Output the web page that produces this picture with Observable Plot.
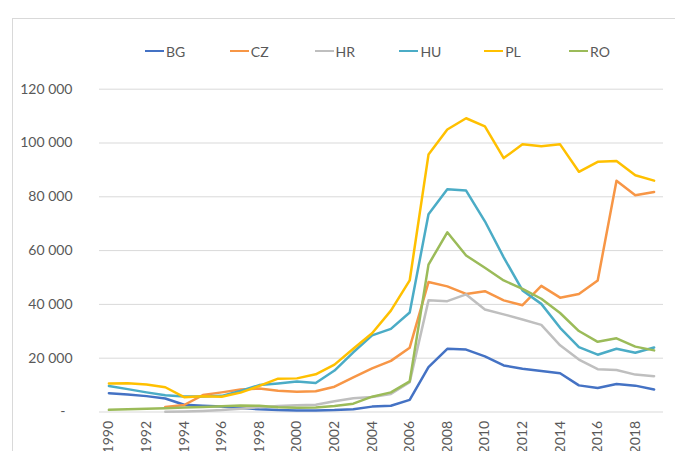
<!DOCTYPE html>
<html>
<head>
<meta charset="utf-8">
<script src="https://cdn.jsdelivr.net/npm/d3@7"></script>
<script src="https://cdn.jsdelivr.net/npm/@observablehq/plot@0.6"></script>
<style>
  html, body { margin: 0; padding: 0; background: #fff; }
  #wrap { position: relative; width: 675px; height: 451px; overflow: hidden; font-family: Lato, "Open Sans", sans-serif; }
  #frame { position: absolute; left: 12px; top: 18px; right: -5px; bottom: -5px; border-left: 1px solid #d9d9d9; border-top: 1px solid #d9d9d9; pointer-events: none; }
  #legend { position: absolute; left: 0; top: 41px; height: 20px; width: 675px; }
  .item { position: absolute; top: 0; display: flex; align-items: center; height: 20px; font-size: 14px; color: #595959; }
  .swatch { display: inline-block; width: 19px; height: 2.5px; margin-right: 2px; }
</style>
</head>
<body>
<div id="wrap"><div id="frame"></div><div id="legend"></div></div>
<script>
const years = [1990,1991,1992,1993,1994,1995,1996,1997,1998,1999,2000,2001,2002,2003,2004,2005,2006,2007,2008,2009,2010,2011,2012,2013,2014,2015,2016,2017,2018,2019];
const countries = ["BG","CZ","HR","HU","PL","RO"];
const colors = ["#4472C4","#F79646","#BFBFBF","#4BACC6","#FFC000","#9BBB59"];

const BG = [7000,6500,5900,5000,2700,2300,2000,1500,1000,700,600,600,700,1000,2000,2300,4500,16700,23500,23200,20700,17300,16100,15200,14400,9900,8900,10400,9800,8400];
const CZ = [null,null,null,1900,2600,6300,7300,8400,8700,7900,7500,7700,9400,12900,16200,19000,23900,48300,46700,43900,44900,41500,39700,46900,42500,43900,48900,86000,80600,81800];
const HR = [null,null,null,100,200,400,700,1200,1800,2200,2500,2700,4000,5100,5600,6700,11100,41500,41200,43700,38100,36300,34400,32400,24800,19500,15900,15600,13900,13300];
const HU = [9700,8500,7300,6200,5800,5800,6000,7800,10000,10600,11300,10800,15400,22200,28500,30900,37000,73500,82800,82300,70900,57500,45200,40200,31300,24100,21300,23500,22000,24000];
const PL = [10600,10700,10200,9200,5500,5900,5700,7200,9700,12400,12500,14000,17600,23500,29300,37700,48900,95700,105000,109200,106200,94400,99500,98800,99500,89300,93000,93300,88000,86000];
const RO = [800,1000,1200,1400,1700,1900,2100,2400,2300,1800,1600,1700,2200,3100,5700,7300,11400,54800,66800,58200,53600,48900,45800,42100,36800,30100,26100,27400,24300,22900];

const yTicks = [0,20000,40000,60000,80000,100000,120000];
const xTicks = [1990,1992,1994,1996,1998,2000,2002,2004,2006,2008,2010,2012,2014,2016,2018];

const seriesValues = [BG, CZ, HR, HU, PL, RO];
const rows = [];
countries.forEach((c, ci) => {
  seriesValues[ci].forEach((v, i) => {
    if (v != null) rows.push({country: c, year: years[i], value: v});
  });
});

const fmt = d => d === 0 ? "-\u00a0\u00a0" : d3.format(",")(d).replace(/,/g, " ");

const chart = Plot.plot({
  width: 675,
  height: 451,
  marginLeft: 99,
  marginRight: 12,
  marginTop: 88.7,
  marginBottom: 39.5,
  style: {fontFamily: "Lato, 'Open Sans', sans-serif", fontSize: "14px", color: "#595959", background: "transparent"},
  x: {domain: [1989.5, 2019.5]},
  y: {domain: [0, 120000]},
  color: {domain: countries, range: colors},
  marks: [
    Plot.ruleY(yTicks, {stroke: "#d9d9d9", strokeWidth: 1}),
    Plot.axisY({ticks: yTicks, tickSize: 0, tickPadding: 27, tickFormat: fmt, label: null}),
    Plot.axisX({ticks: xTicks, tickSize: 0, tickPadding: 9, tickRotate: -90, tickFormat: d => String(d), label: null}),
    Plot.lineY(rows, {x: "year", y: "value", z: "country", stroke: "country", strokeWidth: 2.5, strokeLinejoin: "round", strokeLinecap: "round"})
  ]
});
chart.style.position = "absolute";
chart.style.left = "0";
chart.style.top = "0";
document.getElementById("wrap").insertBefore(chart, document.getElementById("frame"));

const legend = document.getElementById("legend");
countries.forEach((c, i) => {
  const item = document.createElement("div");
  item.className = "item";
  item.style.left = (145 + i * 84.8) + "px";
  const sw = document.createElement("span");
  sw.className = "swatch";
  sw.style.background = colors[i];
  const tx = document.createElement("span");
  tx.textContent = c;
  item.appendChild(sw);
  item.appendChild(tx);
  legend.appendChild(item);
});
</script>
</body>
</html>
